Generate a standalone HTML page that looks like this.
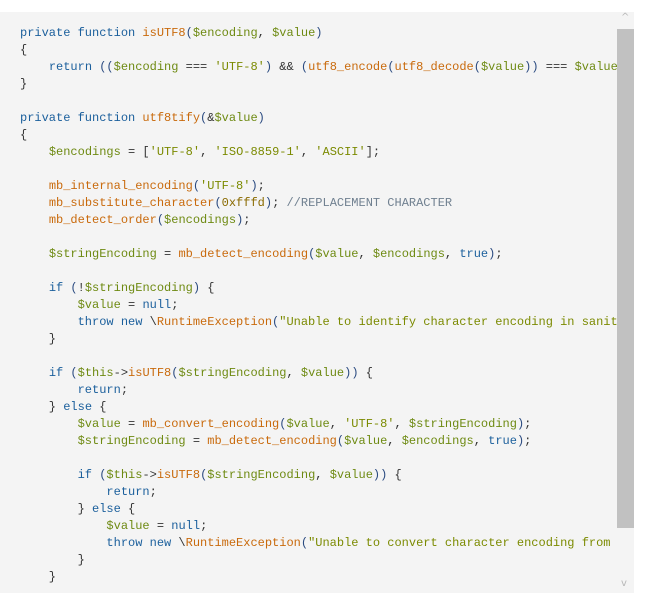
<!DOCTYPE html>
<html><head><meta charset="utf-8"><style>
html,body{margin:0;padding:0;background:#fff;width:656px;height:593px;overflow:hidden}
.box{position:absolute;left:0;top:12px;width:634px;height:581px;background:#f4f4f4;overflow:hidden}
.clip{position:absolute;left:0;top:0;width:617px;height:575px;overflow:hidden}
pre{position:absolute;left:20px;top:12.5px;margin:0;font-family:"Liberation Mono",monospace;font-size:12px;line-height:17px;color:#333;white-space:pre}
.k{color:#1b5f9c}.f{color:#c96a0c}.v{color:#6e8a12}.s{color:#7b8a00}.c{color:#708090}.n{color:#8a6a00}.p{color:#2a4a80}
.sb{position:absolute;left:617px;top:17px;width:17px;height:499px;background:#c1c1c1}
.ua,.da{position:absolute;left:621px;width:8px;height:8px;color:#b8b8b8;font:10px "DejaVu Sans",sans-serif}
</style></head><body>
<div class="box"><div class="clip"><pre><span class="k">private function</span> <span class="f">isUTF8</span><span class="p">(</span><span class="v">$encoding</span>, <span class="v">$value</span><span class="p">)</span>
{
    <span class="k">return</span> <span class="p">((</span><span class="v">$encoding</span> === <span class="s">'UTF-8'</span><span class="p">)</span> &amp;&amp; <span class="p">(</span><span class="f">utf8_encode</span><span class="p">(</span><span class="f">utf8_decode</span><span class="p">(</span><span class="v">$value</span><span class="p">))</span> === <span class="v">$value</span><span class="p">));</span>
}

<span class="k">private function</span> <span class="f">utf8tify</span><span class="p">(</span>&amp;<span class="v">$value</span><span class="p">)</span>
{
    <span class="v">$encodings</span> = [<span class="s">'UTF-8'</span>, <span class="s">'ISO-8859-1'</span>, <span class="s">'ASCII'</span>];

    <span class="f">mb_internal_encoding</span><span class="p">(</span><span class="s">'UTF-8'</span><span class="p">)</span>;
    <span class="f">mb_substitute_character</span><span class="p">(</span><span class="n">0xfffd</span><span class="p">)</span>; <span class="c">//REPLACEMENT CHARACTER</span>
    <span class="f">mb_detect_order</span><span class="p">(</span><span class="v">$encodings</span><span class="p">)</span>;

    <span class="v">$stringEncoding</span> = <span class="f">mb_detect_encoding</span><span class="p">(</span><span class="v">$value</span>, <span class="v">$encodings</span>, <span class="k">true</span><span class="p">)</span>;

    <span class="k">if</span> <span class="p">(</span>!<span class="v">$stringEncoding</span><span class="p">)</span> {
        <span class="v">$value</span> = <span class="k">null</span>;
        <span class="k">throw new</span> \<span class="f">RuntimeException</span><span class="p">(</span><span class="s">"Unable to identify character encoding in sanitizer"</span><span class="p">)</span>;
    }

    <span class="k">if</span> <span class="p">(</span><span class="v">$this</span>-&gt;<span class="f">isUTF8</span><span class="p">(</span><span class="v">$stringEncoding</span>, <span class="v">$value</span><span class="p">))</span> {
        <span class="k">return</span>;
    } <span class="k">else</span> {
        <span class="v">$value</span> = <span class="f">mb_convert_encoding</span><span class="p">(</span><span class="v">$value</span>, <span class="s">'UTF-8'</span>, <span class="v">$stringEncoding</span><span class="p">)</span>;
        <span class="v">$stringEncoding</span> = <span class="f">mb_detect_encoding</span><span class="p">(</span><span class="v">$value</span>, <span class="v">$encodings</span>, <span class="k">true</span><span class="p">)</span>;

        <span class="k">if</span> <span class="p">(</span><span class="v">$this</span>-&gt;<span class="f">isUTF8</span><span class="p">(</span><span class="v">$stringEncoding</span>, <span class="v">$value</span><span class="p">))</span> {
            <span class="k">return</span>;
        } <span class="k">else</span> {
            <span class="v">$value</span> = <span class="k">null</span>;
            <span class="k">throw new</span> \<span class="f">RuntimeException</span><span class="p">(</span><span class="s">"Unable to convert character encoding from ISO-8859-1"</span><span class="p">)</span>;
        }
    }
}</pre></div>
<div class="sb"></div>
</div>
<div class="ua" style="top:12px">^</div>
<div class="da" style="top:578px">v</div>
</body></html>
